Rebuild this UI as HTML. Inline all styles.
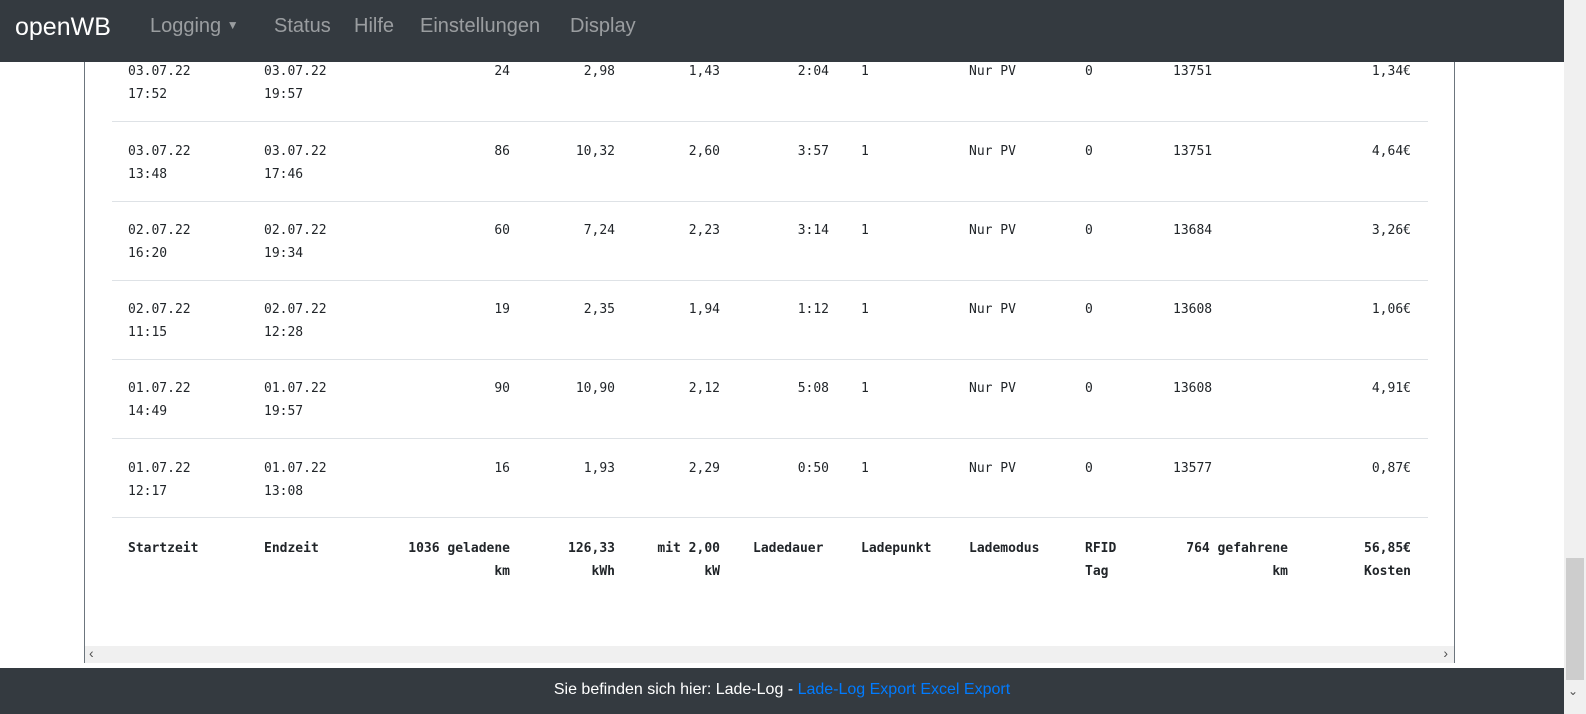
<!DOCTYPE html>
<html><head><meta charset="utf-8"><style>
*{margin:0;padding:0;box-sizing:border-box}
body{width:1586px;height:714px;overflow:hidden;background:#fff;position:relative;font-family:"DejaVu Sans Mono","Liberation Mono",monospace;font-size:13px;color:#212529}
.nav{position:absolute;left:0;top:0;width:1564px;height:62px;background:#343a40;font-family:"Liberation Sans",sans-serif}
.brand{position:absolute;left:15px;top:13px;font-size:25px;color:#fff}
.nl{position:absolute;top:15px;font-size:20px;color:rgba(255,255,255,.5)}
.card{position:absolute;left:84px;top:62px;width:1371px;height:601px;border-left:1px solid #6c757d;border-right:1px solid #6c757d;border-bottom:1px solid #6c757d}
.hs{position:absolute;left:85px;top:646px;width:1369px;height:17px;background:#f0f0f0;font-family:"Liberation Sans",sans-serif;color:#505050;font-size:14px}
.vs{position:absolute;left:1564px;top:0;width:22px;height:714px;background:#f0f0f0}
.th{position:absolute;left:1566px;top:558px;width:18px;height:122px;background:#cdcdcd}
.foot{position:absolute;left:0;top:668px;width:1564px;height:46px;background:#343a40;color:#fff;font-family:"Liberation Sans",sans-serif;font-size:16px;text-align:center;line-height:44px}
.foot a{color:#007bff;text-decoration:none}
.row{position:absolute;left:0;width:1564px;height:46px}
.c{position:absolute;top:0;line-height:23px;white-space:nowrap}
.r{text-align:right}
.hr{position:absolute;left:112px;width:1316px;height:1px;background:#dee2e6}
</style></head><body>
<div class="nav"><div class="brand">openWB</div>
<div class="nl" style="left:150px">Logging <span style="font-size:12px;vertical-align:3px">▼</span></div>
<div class="nl" style="left:274px">Status</div>
<div class="nl" style="left:354px">Hilfe</div>
<div class="nl" style="left:420px">Einstellungen</div>
<div class="nl" style="left:570px">Display</div></div>
<div class="card"></div>

<div class="row" style="top:60px">
<div class="c" style="left:128px">03.07.22<br>17:52</div><div class="c" style="left:264px">03.07.22<br>19:57</div>
<div class="c r" style="right:1054px">24</div><div class="c r" style="right:949px">2,98</div><div class="c r" style="right:844px">1,43</div><div class="c r" style="right:735px">2:04</div>
<div class="c" style="left:861px">1</div><div class="c" style="left:969px">Nur PV</div><div class="c" style="left:1085px">0</div><div class="c" style="left:1173px">13751</div><div class="c r" style="right:153px">1,34€</div></div>
<div class="hr" style="top:121px"></div>

<div class="row" style="top:140px">
<div class="c" style="left:128px">03.07.22<br>13:48</div><div class="c" style="left:264px">03.07.22<br>17:46</div>
<div class="c r" style="right:1054px">86</div><div class="c r" style="right:949px">10,32</div><div class="c r" style="right:844px">2,60</div><div class="c r" style="right:735px">3:57</div>
<div class="c" style="left:861px">1</div><div class="c" style="left:969px">Nur PV</div><div class="c" style="left:1085px">0</div><div class="c" style="left:1173px">13751</div><div class="c r" style="right:153px">4,64€</div></div>
<div class="hr" style="top:201px"></div>

<div class="row" style="top:219px">
<div class="c" style="left:128px">02.07.22<br>16:20</div><div class="c" style="left:264px">02.07.22<br>19:34</div>
<div class="c r" style="right:1054px">60</div><div class="c r" style="right:949px">7,24</div><div class="c r" style="right:844px">2,23</div><div class="c r" style="right:735px">3:14</div>
<div class="c" style="left:861px">1</div><div class="c" style="left:969px">Nur PV</div><div class="c" style="left:1085px">0</div><div class="c" style="left:1173px">13684</div><div class="c r" style="right:153px">3,26€</div></div>
<div class="hr" style="top:280px"></div>

<div class="row" style="top:298px">
<div class="c" style="left:128px">02.07.22<br>11:15</div><div class="c" style="left:264px">02.07.22<br>12:28</div>
<div class="c r" style="right:1054px">19</div><div class="c r" style="right:949px">2,35</div><div class="c r" style="right:844px">1,94</div><div class="c r" style="right:735px">1:12</div>
<div class="c" style="left:861px">1</div><div class="c" style="left:969px">Nur PV</div><div class="c" style="left:1085px">0</div><div class="c" style="left:1173px">13608</div><div class="c r" style="right:153px">1,06€</div></div>
<div class="hr" style="top:359px"></div>

<div class="row" style="top:377px">
<div class="c" style="left:128px">01.07.22<br>14:49</div><div class="c" style="left:264px">01.07.22<br>19:57</div>
<div class="c r" style="right:1054px">90</div><div class="c r" style="right:949px">10,90</div><div class="c r" style="right:844px">2,12</div><div class="c r" style="right:735px">5:08</div>
<div class="c" style="left:861px">1</div><div class="c" style="left:969px">Nur PV</div><div class="c" style="left:1085px">0</div><div class="c" style="left:1173px">13608</div><div class="c r" style="right:153px">4,91€</div></div>
<div class="hr" style="top:438px"></div>

<div class="row" style="top:457px">
<div class="c" style="left:128px">01.07.22<br>12:17</div><div class="c" style="left:264px">01.07.22<br>13:08</div>
<div class="c r" style="right:1054px">16</div><div class="c r" style="right:949px">1,93</div><div class="c r" style="right:844px">2,29</div><div class="c r" style="right:735px">0:50</div>
<div class="c" style="left:861px">1</div><div class="c" style="left:969px">Nur PV</div><div class="c" style="left:1085px">0</div><div class="c" style="left:1173px">13577</div><div class="c r" style="right:153px">0,87€</div></div>
<div class="hr" style="top:517px"></div>

<div class="row" style="top:537px;font-weight:bold">
<div class="c" style="left:128px">Startzeit</div><div class="c" style="left:264px">Endzeit</div>
<div class="c r" style="right:1054px">1036 geladene<br>km</div><div class="c r" style="right:949px">126,33<br>kWh</div><div class="c r" style="right:844px">mit 2,00<br>kW</div><div class="c" style="left:753px">Ladedauer</div>
<div class="c" style="left:861px">Ladepunkt</div><div class="c" style="left:969px">Lademodus</div><div class="c" style="left:1085px">RFID<br>Tag</div><div class="c r" style="right:276px">764 gefahrene<br>km</div><div class="c r" style="right:153px">56,85€<br>Kosten</div></div>

<div class="hs"><span style="position:absolute;left:4px;top:-1px">‹</span><span style="position:absolute;right:6px;top:-1px">›</span></div>
<div class="foot">Sie befinden sich hier: Lade-Log - <a>Lade-Log Export</a> <a>Excel Export</a></div>
<div class="vs"></div><div class="th"></div>
<div style="position:absolute;left:1568px;top:684px;font-family:'Liberation Sans';font-size:12px;color:#505050">⌄</div>
</body></html>
